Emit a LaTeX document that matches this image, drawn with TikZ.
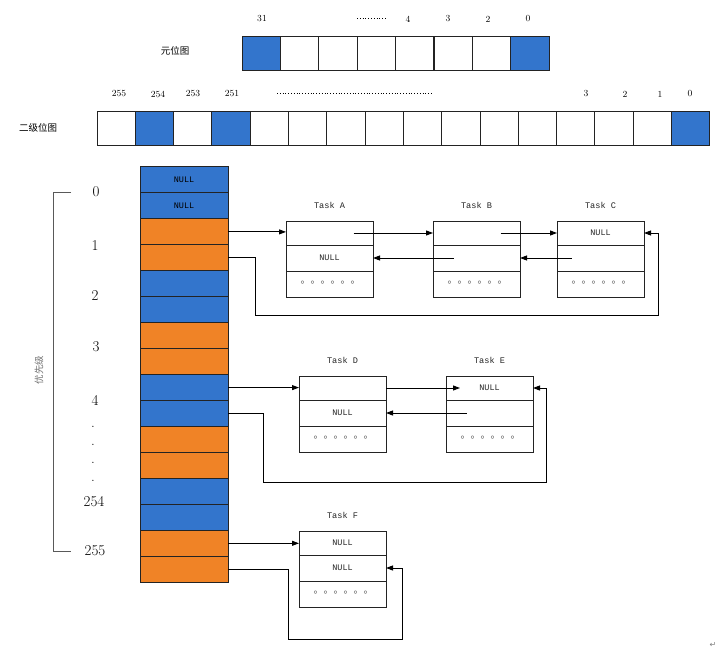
\documentclass[tikz,border=0pt]{standalone}
\usepackage{fontspec}
\newfontfamily\monof{Liberation Mono}
\newfontfamily\cjkf{Noto Sans CJK SC}
\newfontfamily\djv{DejaVu Sans}
\usetikzlibrary{arrows.meta}
\definecolor{cblue}{RGB}{51,117,204}
\definecolor{corange}{RGB}{240,131,38}
\definecolor{edge}{RGB}{35,35,35}
\newcommand\TaskBox[6]{%
  \node[tcell,minimum height=24pt] (#1a) at (#2,#3) {#5};
  \node[tcell,minimum height=26pt] (#1b) at (#1a.south west) {#6};
  \node[tcell,minimum height=26pt] (#1c) at (#1b.south west) {};
  \node[ttl] (#1t) at ([yshift=16pt]#1a.north) {#4};
  \node[tdots] (#1d) at ([xshift=1pt,yshift=1pt]#1c.center) {。。。。。。};
}
\begin{document}
\begin{tikzpicture}[x=1pt,y=-1pt,
  bcell/.style={draw=edge,line width=1pt,inner sep=0pt,outer sep=0pt,minimum width=38.3pt,minimum height=34pt,anchor=north west},
  ccell/.style={draw=edge,line width=1pt,inner sep=0pt,outer sep=0pt,minimum width=88pt,minimum height=26pt,anchor=north west,font=\monof\fontsize{8.5}{10}\selectfont},
  tcell/.style={draw=edge,line width=1pt,inner sep=0pt,outer sep=0pt,minimum width=87pt,anchor=north west,font=\monof\fontsize{8.5}{10}\selectfont,text=black!85},
  ttl/.style={font=\monof\fontsize{8.6}{10}\selectfont,inner sep=0pt,text=black!85},
  tdots/.style={font=\cjkf\fontsize{10}{10}\selectfont,inner sep=0pt,text=black!70},
  num/.style={font=\fontsize{9.3}{11}\selectfont,inner sep=0pt},
  pri/.style={font=\fontsize{15}{18}\selectfont,inner sep=0pt},
  cjk/.style={font=\cjkf\fontsize{9.5}{11}\selectfont,inner sep=0pt},
  arr/.style={draw=black,line width=0.9pt,-{Triangle[length=7pt,width=5pt]}},
  dotl/.style={line width=1pt,dash pattern=on 0.8pt off 2pt}
]
\useasboundingbox (0,0) rectangle (719,652);
\fill[white] (0,0) rectangle (719,652);

% ---- meta bitmap ----
\node[cjk] (lmeta) at (175,51) {元位图};
\foreach \i/\c in {1/cblue,2/white,3/white,4/white,5/white,6/white,7/white,8/cblue}
  \node[bcell,fill=\c] (m\i) at ({242+38.4*(\i-1)},37) {};
\node[num] (t31) at (262,19) {31};
\coordinate (tdA) at (357,19);
\coordinate (tdB) at (386,19);
\draw[dotl] (tdA) -- (tdB);
\node[num] (t4) at (408,19) {4};
\node[num] (t3) at (448,19) {3};
\node[num] (t2) at (488,19) {2};
\node[num] (t0) at (528,19) {0};

% ---- second level bitmap ----
\node[cjk] (lsec) at (38,128) {二级位图};
\foreach \i/\c in {1/white,2/cblue,3/white,4/cblue,5/white,6/white,7/white,8/white,9/white,10/white,11/white,12/white,13/white,14/white,15/white,16/cblue}
  \node[bcell,fill=\c] (s\i) at ({97+38.3*(\i-1)},112) {};
\node[num] (u255) at (119,94) {255};
\node[num] (u254) at (158,94) {254};
\node[num] (u253) at (193,94) {253};
\node[num] (u251) at (232,94) {251};
\coordinate (udA) at (277,94);
\coordinate (udB) at (433,94);
\draw[dotl] (udA) -- (udB);
\node[num] (u3) at (586,94) {3};
\node[num] (u2) at (625,94) {2};
\node[num] (u1) at (660,94) {1};
\node[num] (u0) at (690,94) {0};

% ---- priority column ----
\foreach \i/\c in {1/cblue,2/cblue,3/corange,4/corange,5/cblue,6/cblue,7/corange,8/corange,9/cblue,10/cblue,11/corange,12/corange,13/cblue,14/cblue,15/corange,16/corange}
  \node[ccell,fill=\c] (c\i) at (140,{167+25.95*(\i-1)}) {};
\node[font=\monof\fontsize{8.5}{10}\selectfont,inner sep=0pt] (n1) at (c1.center) {NULL};
\node[font=\monof\fontsize{8.5}{10}\selectfont,inner sep=0pt] (n2) at (c2.center) {NULL};

% priority labels and bracket
\node[pri] (p0) at (96,192) {0};
\node[pri] (p1) at (95,246) {1};
\node[pri] (p2) at (95,296) {2};
\node[pri] (p3) at (96,347) {3};
\node[pri] (p4) at (95,400) {4};
\node[pri] (pd1) at (93,427) {.};
\node[pri] (pd2) at (93,445) {.};
\node[pri] (pd3) at (93,463) {.};
\node[pri] (pd4) at (93,481) {.};
\node[pri] (p254) at (94,502) {254};
\node[pri] (p255) at (95,551) {255};
\coordinate (brA) at (71,193);
\coordinate (brB) at (53,193);
\coordinate (brC) at (53,551);
\coordinate (brD) at (71,551);
\draw[black!65,line width=1pt] (brA) -- (brB) -- (brC) -- (brD);
\node[cjk,text=black!55,rotate=90] (lpri) at (39,370) {优先级};

% ---- tasks ----
\TaskBox{A}{286}{221}{Task A}{}{NULL}
\TaskBox{B}{433}{221}{Task B}{}{}
\TaskBox{C}{557}{221}{Task C}{NULL}{}
\TaskBox{D}{299}{376}{Task D}{}{NULL}
\TaskBox{E}{446}{376}{Task E}{NULL}{}
\TaskBox{F}{299}{531}{Task F}{NULL}{NULL}

% ---- connectors ----
\draw[arr] (c3.east) -- (c3.east -| Aa.west);
\draw[arr] ([xshift=24pt]Aa.center) -- (Ba.west);
\draw[arr] ([xshift=24pt]Ba.center) -- (Ca.west);
\draw[arr] ([xshift=-23pt]Bb.center) -- (Ab.east);
\draw[arr] ([xshift=-29pt]Cb.center) -- (Bb.east);
\draw[arr] (c4.east) -| (255,315) -| ([xshift=14pt]Ca.east) -- (Ca.east);

\draw[arr] (c9.east) -- (c9.east -| Da.west);
\draw[arr] (Da.east) -- ([xshift=14pt]Ea.west);
\draw[arr] ([xshift=-23pt]Eb.center) -- (Db.east);
\draw[arr] (c10.east) -| (263,482) -| ([xshift=13pt]Ea.east) -- (Ea.east);

\draw[arr] (c15.east) -- (c15.east -| Fa.west);
\draw[arr] (c16.east) -| (288,639) -| ([xshift=16pt]Fb.east) -- (Fb.east);

\node[font=\djv\fontsize{8}{8}\selectfont,text=black!50,inner sep=0pt] (ret) at (713,645) {↵};
\end{tikzpicture}
\end{document}
